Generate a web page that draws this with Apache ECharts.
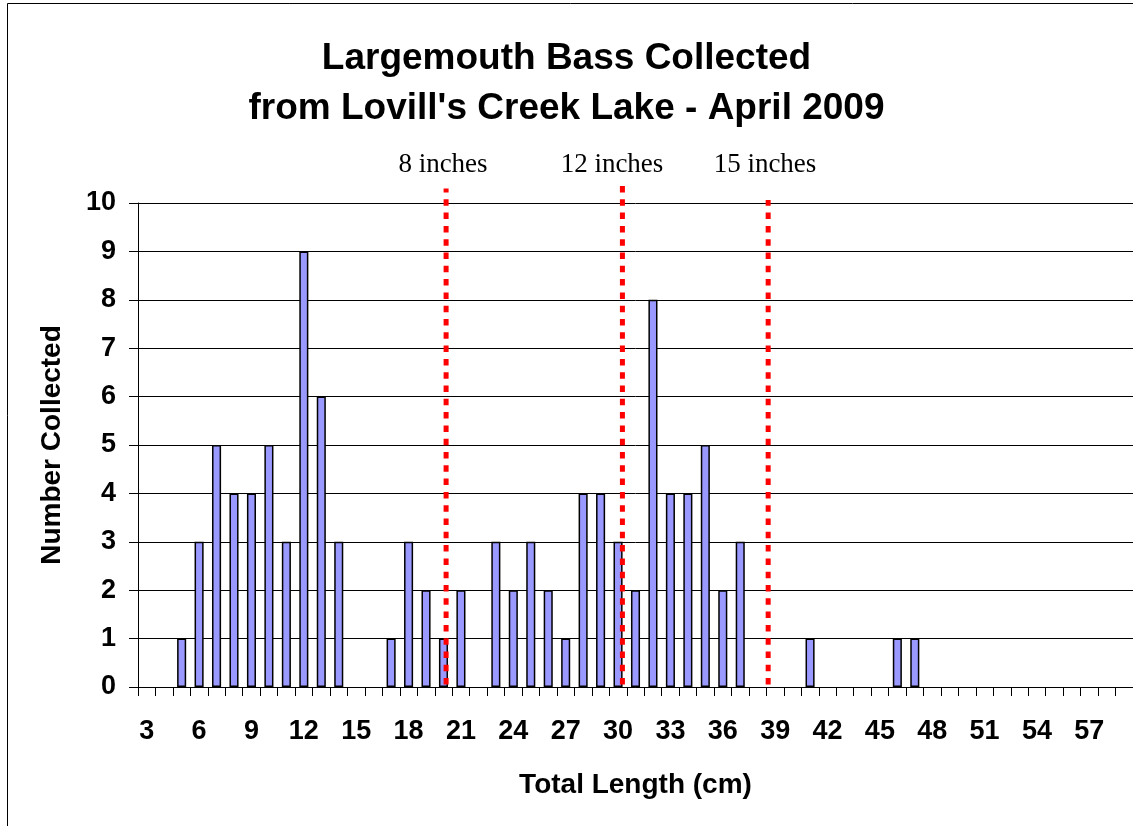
<!DOCTYPE html>
<html>
<head>
<meta charset="utf-8">
<script src="https://cdn.jsdelivr.net/npm/echarts@6/dist/echarts.min.js"></script>
<style>
  html, body { margin: 0; padding: 0; background: #fff; }
  #chart { width: 1133px; height: 826px; }
</style>
</head>
<body>
<div id="chart"></div>
<script>
// total length classes (cm)
const lengths = ['3', '4', '5', '6', '7', '8', '9', '10', '11', '12', '13', '14', '15', '16', '17', '18', '19', '20',
  '21', '22', '23', '24', '25', '26', '27', '28', '29', '30', '31', '32', '33', '34', '35', '36', '37', '38', '39', '40',
  '41', '42', '43', '44', '45', '46', '47', '48', '49', '50', '51', '52', '53', '54', '55', '56', '57', '58', '59']
// number collected per class
const counts = [0, 0, 1, 3, 5, 4, 4, 5, 3, 9, 6, 3, 0, 0, 1, 3, 2, 1,
  2, 0, 3, 2, 3, 2, 1, 4, 4, 3, 2, 8, 4, 4, 5, 2, 3, 0, 0, 0,
  1, 0, 0, 0, 0, 1, 1, 0, 0, 0, 0, 0, 0, 0, 0, 0, 0, 0, 0]
const yTicks = [0, 1, 2, 3, 4, 5, 6, 7, 8, 9, 10]
// size limits drawn as dotted lines (position in cm, top end in counts)
const limitNames = ['8 inches', '12 inches', '15 inches']
const limitCm = [20.15, 30.25, 38.6]
const limitTop = [10.3, 10.35, 10.06]

const chart = echarts.init(document.getElementById('chart'))

const limitSeries = limitCm.map((cm, i) => ({
  name: limitNames[i],
  type: 'line',
  xAxisIndex: 1,
  clip: false,
  symbol: 'none',
  silent: true,
  z: 5,
  lineStyle: { color: '#ff0000', width: 5, type: [6.5, 6.8], cap: 'butt' },
  data: [[cm, 0.05], [cm, limitTop[i]]]
}))

const labelFont = '27px Liberation Serif'

chart.setOption({
  animation: false,
  backgroundColor: '#fff',
  textStyle: { fontFamily: 'Liberation Sans, Arial, sans-serif' },
  graphic: [
    { type: 'rect', shape: { x: 7.5, y: 3.5, width: 1200, height: 900 }, style: { fill: 'none', stroke: '#000', lineWidth: 1 }, z: -1 },
    { type: 'text', left: 'center', top: 40, style: { text: 'Largemouth Bass Collected', font: 'bold 37px Liberation Sans', fill: '#000' } },
    { type: 'text', left: 'center', top: 90, style: { text: "from Lovill's Creek Lake - April 2009", font: 'bold 37px Liberation Sans', fill: '#000' } },
    { type: 'text', x: 443, y: 165, style: { text: limitNames[0], font: labelFont, fill: '#000', align: 'center', verticalAlign: 'middle' } },
    { type: 'text', x: 612, y: 165, style: { text: limitNames[1], font: labelFont, fill: '#000', align: 'center', verticalAlign: 'middle' } },
    { type: 'text', x: 765, y: 165, style: { text: limitNames[2], font: labelFont, fill: '#000', align: 'center', verticalAlign: 'middle' } }
  ],
  grid: { left: 138, top: 203, bottom: 139, right: -7, containLabel: false },
  xAxis: [{
    type: 'category',
    data: lengths,
    name: 'Total Length (cm)',
    nameLocation: 'middle',
    nameGap: 84,
    nameTextStyle: { fontSize: 28, fontWeight: 'bold', color: '#000' },
    axisLine: { lineStyle: { color: '#000', width: 1 } },
    axisTick: { show: true, length: 9, interval: 0, lineStyle: { color: '#000' } },
    axisLabel: { interval: 2, margin: 31, fontSize: 27, fontWeight: 'bold', color: '#000' }
  }, {
    type: 'value',
    min: 2.5,
    max: 59.5,
    show: false
  }],
  yAxis: {
    type: 'value',
    min: yTicks[0],
    max: yTicks[yTicks.length - 1],
    interval: 1,
    name: 'Number Collected',
    nameLocation: 'middle',
    nameGap: 72,
    nameRotate: 90,
    nameTextStyle: { fontSize: 28, fontWeight: 'bold', color: '#000' },
    axisLine: { show: true, lineStyle: { color: '#000', width: 1 } },
    axisTick: { show: true, length: 9, lineStyle: { color: '#000' } },
    axisLabel: { margin: 22, fontSize: 27, fontWeight: 'bold', color: '#000' },
    splitLine: { lineStyle: { color: '#000', width: 1 } }
  },
  series: [{
    name: 'Number Collected',
    type: 'bar',
    data: counts.map(v => (v === 0 ? '-' : v)),
    barWidth: '52%',
    itemStyle: { color: '#9999ff', borderColor: '#000', borderWidth: 1.5 }
  }].concat(limitSeries)
})
</script>
</body>
</html>
